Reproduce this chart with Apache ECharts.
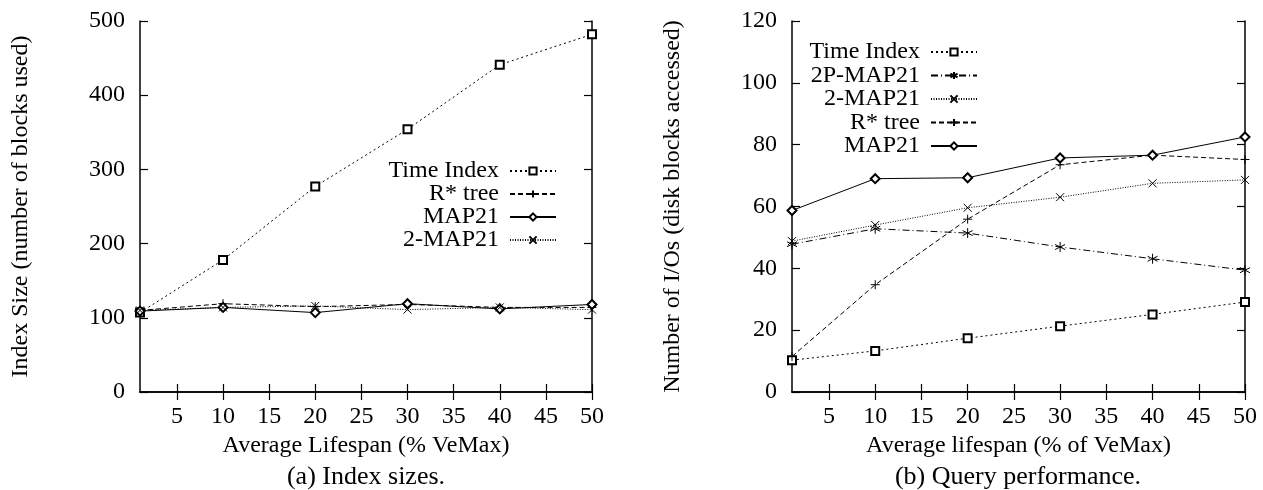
<!DOCTYPE html>
<html>
<head>
<meta charset="utf-8">
<script src="https://cdn.jsdelivr.net/npm/echarts@6/dist/echarts.min.js"></script>
<style>
  html, body { margin: 0; padding: 0; background: #fff; }
  #chart { width: 1263px; height: 490px; }
</style>
</head>
<body>
<div id="chart"></div>
<script>
// Average lifespan (% of VeMax) at which each experiment was run
const lifespan = [1, 10, 20, 30, 40, 50];
const xTicks = [5, 10, 15, 20, 25, 30, 35, 40, 45, 50];

// (a) Index size, number of blocks used
const sizeTimeIndex = [107, 178, 277, 354, 441, 482];
const sizeRStar     = [110, 119, 115, 118, 114, 114];
const sizeMap21     = [109, 114, 107, 119, 112, 118];
const size2Map21    = [110, 114, 116, 111, 114, 111];

// (b) Query performance, disk blocks accessed
const ioTimeIndex = [10.3, 13.3, 17.4, 21.3, 25.1, 29.1];
const io2PMap21   = [47.8, 52.8, 51.4, 46.9, 43.1, 39.4];
const io2Map21    = [48.8, 54.0, 59.6, 63.0, 67.5, 68.6];
const ioRStar     = [11.5, 34.7, 55.9, 73.5, 76.6, 75.2];
const ioMap21     = [58.7, 69.0, 69.3, 75.7, 76.6, 82.5];

const legendA = ['Time Index', 'R* tree', 'MAP21', '2-MAP21'];
const legendB = ['Time Index', '2P-MAP21', '2-MAP21', 'R* tree', 'MAP21'];

const FONT = 'Liberation Serif';
const FS = 24;
const INK = '#000';

// marker + dash style per method
const styles = {
  'Time Index': { symbol: 'emptyRect', size: 8, dash: [2, 3] },
  'R* tree':    { symbol: 'path://M5,0L5,10M0,5L10,5', size: 9, dash: [5, 3] },
  'MAP21':      { symbol: 'emptyDiamond', size: 9, dash: 'solid' },
  '2-MAP21':    { symbol: 'path://M0,0L10,10M10,0L0,10', size: 8, dash: [1, 1.5] },
  '2P-MAP21':   { symbol: 'path://M5,0L5,10M0.7,2.5L9.3,7.5M9.3,2.5L0.7,7.5', size: 10, dash: [7, 3, 1, 3] }
};

function makeSeries(name, values, gi) {
  const s = styles[name];
  return {
    type: 'line',
    name: name,
    xAxisIndex: gi * 2,
    yAxisIndex: gi * 2,
    data: lifespan.map((x, i) => [x, values[i]]),
    symbol: s.symbol,
    symbolSize: s.size,
    showAllSymbol: true,
    lineStyle: { color: INK, width: 1, type: s.dash },
    itemStyle: { color: INK, borderColor: INK, borderWidth: 1 },
    emphasis: { disabled: true },
    silent: true,
    z: 3
  };
}

const frameLine = { color: INK, width: 1.5 };
const tickLine = { color: INK, width: 1.2 };

function xAxes(gi, title) {
  const base = {
    type: 'value', gridIndex: gi, min: 1, max: 50,
    axisLine: { show: true, lineStyle: frameLine },
    axisTick: { show: true, inside: true, length: 8, customValues: xTicks, lineStyle: tickLine },
    splitLine: { show: false }
  };
  return [
    Object.assign({}, base, {
      position: 'bottom',
      axisLabel: { show: true, customValues: xTicks, margin: 13, color: INK, fontFamily: FONT, fontSize: FS },
      name: title, nameLocation: 'middle', nameGap: 38,
      nameTextStyle: { color: INK, fontFamily: FONT, fontSize: FS }
    }),
    Object.assign({}, base, { position: 'top', axisLabel: { show: false } })
  ];
}

function yAxes(gi, max, step, title, gap) {
  const base = {
    type: 'value', gridIndex: gi, min: 0, max: max, interval: step,
    axisLine: { show: true, lineStyle: frameLine },
    axisTick: { show: true, inside: true, length: 8, lineStyle: tickLine },
    splitLine: { show: false }
  };
  return [
    Object.assign({}, base, {
      position: 'left',
      axisLabel: { show: true, margin: 15, color: INK, fontFamily: FONT, fontSize: FS },
      name: title, nameLocation: 'middle', nameGap: gap, nameRotate: 90,
      nameTextStyle: { color: INK, fontFamily: FONT, fontSize: FS }
    }),
    Object.assign({}, base, { position: 'right', axisLabel: { show: false } })
  ];
}

function legends(names, iconRight, firstRow, rowStep) {
  return names.map((n, i) => ({
    data: [n],
    orient: 'vertical',
    align: 'right',
    right: 1263 - iconRight,
    top: firstRow + i * rowStep - 12,
    padding: 0,
    itemWidth: 46,
    itemHeight: 9,
    selectedMode: false,
    textStyle: { color: INK, fontFamily: FONT, fontSize: FS, lineHeight: 24, padding: [0, 6, 0, 0] }
  }));
}

const chart = echarts.init(document.getElementById('chart'), null, { renderer: 'canvas' });

chart.setOption({
  animation: false,
  backgroundColor: '#fff',
  grid: [
    { left: 140, right: 671, top: 21, bottom: 98 },
    { left: 792, right: 18, top: 21, bottom: 98 }
  ],
  xAxis: [].concat(
    xAxes(0, 'Average Lifespan (% VeMax)'),
    xAxes(1, 'Average lifespan (% of VeMax)')
  ),
  yAxis: [].concat(
    yAxes(0, 500, 100, 'Index Size (number of blocks used)', 107),
    yAxes(1, 120, 20, 'Number of I/Os (disk blocks accessed)', 107)
  ),
  legend: [].concat(
    legends(legendA, 557, 171, 23),
    legends(legendB, 978, 52, 23.5)
  ),
  graphic: [
    { type: 'text', x: 366, y: 477, style: { text: '(a) Index sizes.', fill: INK, font: '26px "Liberation Serif"', align: 'center', verticalAlign: 'middle' } },
    { type: 'text', x: 1018, y: 477, style: { text: '(b) Query performance.', fill: INK, font: '26px "Liberation Serif"', align: 'center', verticalAlign: 'middle' } }
  ],
  series: [
    makeSeries('Time Index', sizeTimeIndex, 0),
    makeSeries('R* tree', sizeRStar, 0),
    makeSeries('MAP21', sizeMap21, 0),
    makeSeries('2-MAP21', size2Map21, 0),
    makeSeries('Time Index', ioTimeIndex, 1),
    makeSeries('2P-MAP21', io2PMap21, 1),
    makeSeries('2-MAP21', io2Map21, 1),
    makeSeries('R* tree', ioRStar, 1),
    makeSeries('MAP21', ioMap21, 1)
  ]
});
</script>
</body>
</html>
